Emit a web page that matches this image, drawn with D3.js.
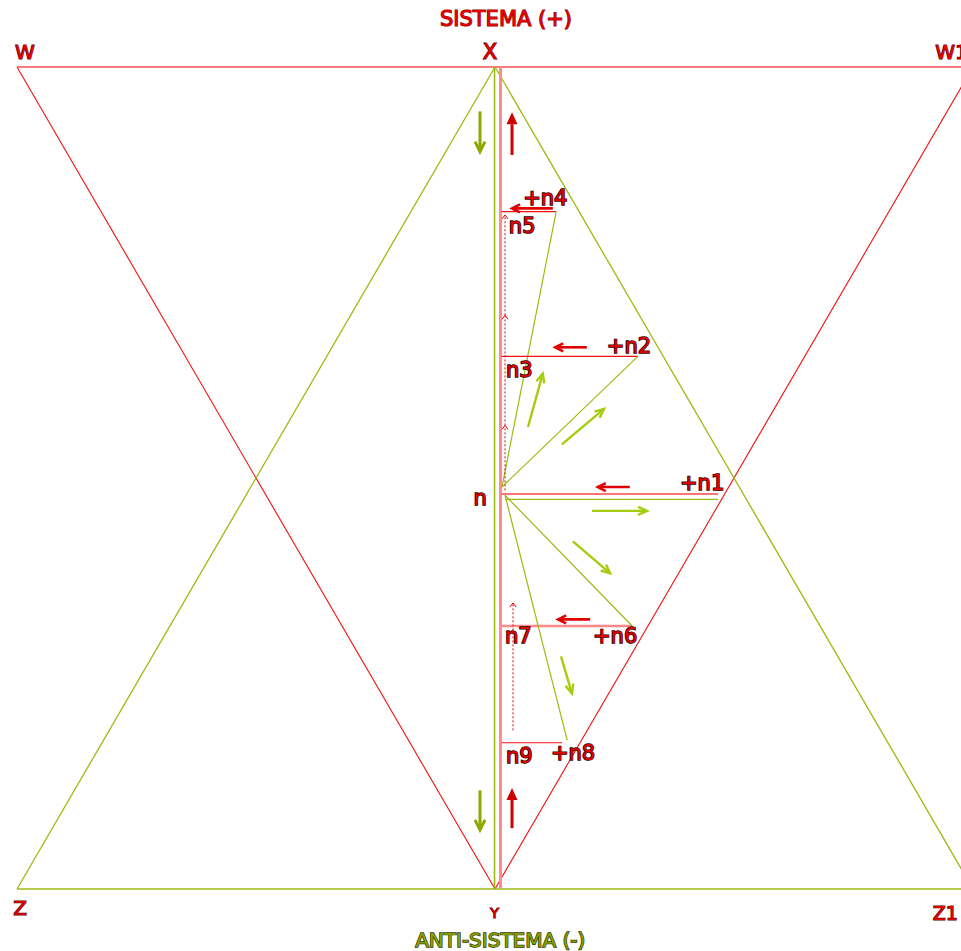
<!DOCTYPE html>
<html>
<head>
<meta charset="utf-8">
<script src="https://cdn.jsdelivr.net/npm/d3@7"></script>
<style>
  body { margin: 0; background: #fff; }
  svg { display: block; }
  text { font-family: "DejaVu Sans", sans-serif; paint-order: stroke; }
</style>
</head>
<body>
<div id="chart"></div>
<script>
// diagram units: x from -100 (W/Z) to 100 (W1/Z1), y from 0 (Y base) to 100 (X top)
var corners = [
  ["W", -100, 100], ["W1", 100, 100], ["X", 0, 100],
  ["Y", 0, 0], ["Z", -100, 0], ["Z1", 100, 0]
];
var redEdges = [["W", "Y"], ["Y", "W1"], ["W", "W1"]];
var greenEdges = [["X", "Z"], ["X", "Z1"], ["Z", "Z1"]];

// the two meeting points of n
var nUp = [1.46, 48.9];
var nLow = [2.1, 47.9];

// branches off the axis
var branchNames = ["+n4", "+n2", "+n1", "+n6", "+n8"];
var branchY = [82.4, 64.8, 48.05, 32.0, 17.8];
var branchX = [12.8, 29.9, 46.7, 28.7, 14.0];
var branchGreenX = [12.8, 29.9, null, 28.7, 15.1];
var branchGreenY = [82.4, 64.8, null, 32.0, 18.1];
var branchSource = ["up", "up", null, "low", "low"];
var branchLabelX = [5.9, 23.4, 38.7, 20.5, 11.7];
var branchLabelY = [83.2, 65.2, 48.5, 29.9, 15.7];

var subNames = ["n5", "n3", "n7", "n9"];
var subX = [2.9, 2.3, 2.1, 2.3];
var subY = [79.8, 62.3, 29.9, 15.3];

// arrows: [x1, y1, x2, y2] (tip at x2, y2)
var bigGreen = [[-3.14, 94.6, -3.14, 89.7], [-3.14, 12.0, -3.14, 7.2]];
var bigRed = [[3.56, 89.3, 3.56, 94.5], [3.56, 7.4, 3.56, 12.3]];
var redLeft = [[12.1, 82.8, 3.56, 82.8], [19.2, 65.9, 12.6, 65.9],
               [28.2, 48.9, 21.5, 48.9], [19.9, 32.8, 13.2, 32.8]];
var greenSmall = [[6.9, 56.2, 10.0, 62.7], [14.0, 54.1, 22.8, 58.4],
                  [20.3, 46.0, 31.8, 46.0], [16.3, 42.3, 24.1, 38.4],
                  [13.8, 28.3, 16.1, 23.8]];
var dotted = [[2.1, 48.5, 2.1, 56.4], [2.1, 56.4, 2.1, 69.8],
              [2.1, 69.8, 2.1, 82.0], [3.77, 19.3, 3.77, 34.8]];

var W = 961, H = 951;
var svg = d3.select('#chart').append('svg')
  .attr('width', W).attr('height', H);

var x = d3.scaleLinear().domain([-100, 100]).range([17, 973]);
var y = d3.scaleLinear().domain([0, 100]).range([889, 67]);

var RED = "#f01010", GREEN = "#9bbb14";
var pt = {};
corners.forEach(function (c) { pt[c[0]] = [c[1], c[2]]; });

function seg(g, a, b, color, w) {
  return g.append('line')
    .attr('x1', x(a[0])).attr('y1', y(a[1]))
    .attr('x2', x(b[0])).attr('y2', y(b[1]))
    .attr('stroke', color).attr('stroke-width', w);
}

var g = svg.append('g');

// outer figure
redEdges.forEach(function (e) {
  var top = (e[0] === "W" && e[1] === "W1");
  seg(g, pt[e[0]], pt[e[1]], top ? "#f05050" : RED, top ? 1.4 : 1.1);
});
greenEdges.forEach(function (e) { seg(g, pt[e[0]], pt[e[1]], GREEN, 1.3); });

// central axis
seg(g, [-0.1, 100], [-0.1, 0], GREEN, 1.6);
seg(g, [1.15, 100], [1.15, 0], "#ff8c8c", 3);

// branches
branchNames.forEach(function (name, i) {
  var pink = (name === "+n6");
  seg(g, [1.4, branchY[i]], [branchX[i], branchY[i]],
      pink ? "#ff8888" : (name === "+n1" ? "#ff4848" : RED), pink ? 2.5 : (name === "+n1" ? 1.6 : 1.1));
  if (branchSource[i]) {
    var s = branchSource[i] === "up" ? nUp : nLow;
    seg(g, [branchGreenX[i], branchGreenY[i]], s, GREEN, 1.2);
  }
});
// green horizontal for n1
seg(g, nLow, [46.7, 47.4], GREEN, 1.4).attr('y1', y(47.4));

// arrows
function chevron(a, color, w, len, half) {
  var x1 = x(a[0]), y1 = y(a[1]), x2 = x(a[2]), y2 = y(a[3]);
  var ang = Math.atan2(y2 - y1, x2 - x1);
  g.append('line').attr('x1', x1).attr('y1', y1).attr('x2', x2).attr('y2', y2)
    .attr('stroke', color).attr('stroke-width', w);
  var p = d3.path();
  var bx = x2 - len * Math.cos(ang), by = y2 - len * Math.sin(ang);
  var nx = -Math.sin(ang) * half, ny = Math.cos(ang) * half;
  p.moveTo(bx + nx, by + ny); p.lineTo(x2, y2); p.lineTo(bx - nx, by - ny);
  g.append('path').attr('d', p.toString()).attr('fill', 'none')
    .attr('stroke', color).attr('stroke-width', w).attr('stroke-linejoin', 'miter');
}
function filled(a, color, w, len, half) {
  var x1 = x(a[0]), y1 = y(a[1]), x2 = x(a[2]), y2 = y(a[3]);
  var ang = Math.atan2(y2 - y1, x2 - x1);
  var bx = x2 - len * Math.cos(ang), by = y2 - len * Math.sin(ang);
  g.append('line').attr('x1', x1).attr('y1', y1).attr('x2', bx).attr('y2', by)
    .attr('stroke', color).attr('stroke-width', w);
  var nx = -Math.sin(ang) * half, ny = Math.cos(ang) * half;
  var p = d3.path();
  p.moveTo(bx + nx, by + ny); p.lineTo(x2, y2); p.lineTo(bx - nx, by - ny); p.closePath();
  g.append('path').attr('d', p.toString()).attr('fill', color);
}

bigGreen.forEach(function (a) { chevron(a, "#8aaa00", 3, 10, 5); });
bigRed.forEach(function (a) { filled(a, "#cc0000", 3, 12, 5.5); });
redLeft.forEach(function (a) { chevron(a, "#e00000", 2.6, 8, 4); });
greenSmall.forEach(function (a) { chevron(a, "#a6cc10", 2.4, 9, 4); });
dotted.forEach(function (a) {
  var x1 = x(a[0]), y1 = y(a[1]), x2 = x(a[2]), y2 = y(a[3]);
  g.append('line').attr('x1', x1).attr('y1', y1).attr('x2', x2).attr('y2', y2 + 1)
    .attr('stroke', "#e00000").attr('stroke-width', 1).attr('stroke-dasharray', '2,2');
  g.append('path').attr('d', 'M' + (x2 - 3) + ',' + (y2 + 4) + 'L' + x2 + ',' + y2 + 'L' + (x2 + 3) + ',' + (y2 + 4))
    .attr('fill', 'none').attr('stroke', "#e00000").attr('stroke-width', 1);
});

// labels
function label(t, px, py, size, anchor) {
  return svg.append('text').attr('x', x(px)).attr('y', y(py))
    .attr('text-anchor', anchor || 'start')
    .attr('font-size', size)
    .attr('fill', '#e60000')
    .attr('stroke', '#1e0000').attr('stroke-width', 1.5)
    .text(t);
}
branchNames.forEach(function (n, i) { label(n, branchLabelX[i], branchLabelY[i], 21); });
subNames.forEach(function (n, i) { label(n, subX[i], subY[i], 21); });
label("n", -1.7, 46.7, 21, 'end');

var cornerLabelX = [-100.4, 92.1, -1.05, -0.1, -100.8, 91.6];
var cornerLabelY = [101.0, 101.0, 101.0, -3.5, -3.2, -3.8];
var cornerSize = [20, 20, 21, 14, 20, 19];
var cornerAnchor = ['start', 'start', 'middle', 'middle', 'start', 'start'];
corners.forEach(function (c, i) {
  label(c[0], cornerLabelX[i], cornerLabelY[i], cornerSize[i], cornerAnchor[i])
    .attr('stroke-width', 1.2).attr('stroke', '#5a0000');
});

label("SISTEMA (+)", 2.3, 105.0, 21, 'middle').attr('stroke', '#900000').attr('stroke-width', 1.2);
svg.append('text').attr('x', x(1.1)).attr('y', y(-7.1))
  .attr('text-anchor', 'middle').attr('font-size', 20)
  .attr('fill', '#8aa000').attr('stroke', '#2e3800').attr('stroke-width', 1.4)
  .text("ANTI-SISTEMA (-)");
</script>
</body>
</html>
